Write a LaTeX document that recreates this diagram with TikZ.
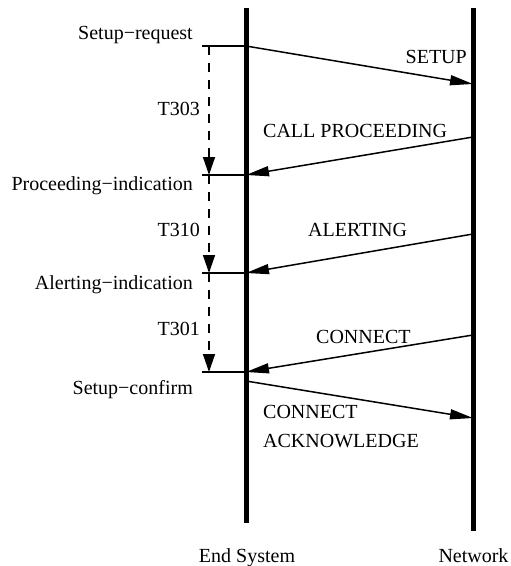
\documentclass[tikz,border=0pt]{standalone}
\usepackage{fontspec}
\setmainfont{Liberation Serif}
\usetikzlibrary{arrows.meta}
\begin{document}
\begin{tikzpicture}[x=1pt,y=-1pt,
  lifeline/.style={line width=5pt},
  msg/.style={line width=1.5pt,-{Triangle[length=23pt,width=10pt]}},
  tick/.style={line width=1.5pt},
  timer/.style={line width=1.5pt,dash pattern=on 9pt off 8pt,-{Triangle[length=18pt,width=12pt]}},
  lbl/.style={inner sep=0pt,font=\fontsize{20}{24}\selectfont}]
\useasboundingbox (0,0) rectangle (511,566);
% lifelines
\coordinate (esT) at (246,8);
\coordinate (esB) at (246,523);
\coordinate (nwT) at (473,8);
\coordinate (nwB) at (473,531);
\draw[lifeline] (esT) -- (esB);
\draw[lifeline] (nwT) -- (nwB);
% event points on end system
\coordinate (e1) at (246,46);
\coordinate (e2) at (246,175);
\coordinate (e3) at (246,273);
\coordinate (e4) at (246,372);
\coordinate (e5) at (246,381);
% tick starts
\coordinate (h1) at (202,46);
\coordinate (h2) at (202,175);
\coordinate (h3) at (202,273);
\coordinate (h4) at (202,372);
% timer points
\coordinate (t1) at (209,46);
\coordinate (t2) at (209,175);
\coordinate (t3) at (209,273);
\coordinate (t4) at (209,372);
% network points
\coordinate (n1) at (473,84);
\coordinate (n2) at (473,137);
\coordinate (n3) at (473,234);
\coordinate (n4) at (473,335);
\coordinate (n5) at (473,418);
% ticks
\draw[tick] (h1) -- (e1);
\draw[tick] (h2) -- (e2);
\draw[tick] (h3) -- (e3);
\draw[tick] (h4) -- (e4);
% timers
\draw[timer] (t1) -- (t2);
\draw[timer] (t2) -- (t3);
\draw[timer] (t3) -- (t4);
% messages
\draw[msg] (e1) -- (n1);
\draw[msg] (n2) -- (e2);
\draw[msg] (n3) -- (e3);
\draw[msg] (n4) -- (e4);
\draw[msg] (e5) -- (n5);
% left labels
\node[lbl,anchor=base east] (sreq) at (193,39) {Setup−request};
\node[lbl,anchor=base east] (t303) at (200,115) {T303};
\node[lbl,anchor=base east] (pind) at (193,190) {Proceeding−indication};
\node[lbl,anchor=base east] (t310) at (200,236) {T310};
\node[lbl,anchor=base east] (aind) at (193,289) {Alerting−indication};
\node[lbl,anchor=base east] (t301) at (200,335) {T301};
\node[lbl,anchor=base east] (sconf) at (193,394) {Setup−confirm};
% message labels
\node[lbl,anchor=base east] (lsetup) at (467,63) {SETUP};
\node[lbl,anchor=base west] (lcp) at (263,137) {CALL PROCEEDING};
\node[lbl,anchor=base west] (lal) at (308,236) {ALERTING};
\node[lbl,anchor=base west] (lcon) at (316,343) {CONNECT};
\node[lbl,anchor=base west] (lca1) at (263,418) {CONNECT};
\node[lbl,anchor=base west] (lca2) at (263,447) {ACKNOWLEDGE};
% bottom labels
\node[lbl,anchor=base] (les) at (247,562) {End System};
\node[lbl,anchor=base] (lnw) at (473.5,562) {Network};
\end{tikzpicture}
\end{document}
